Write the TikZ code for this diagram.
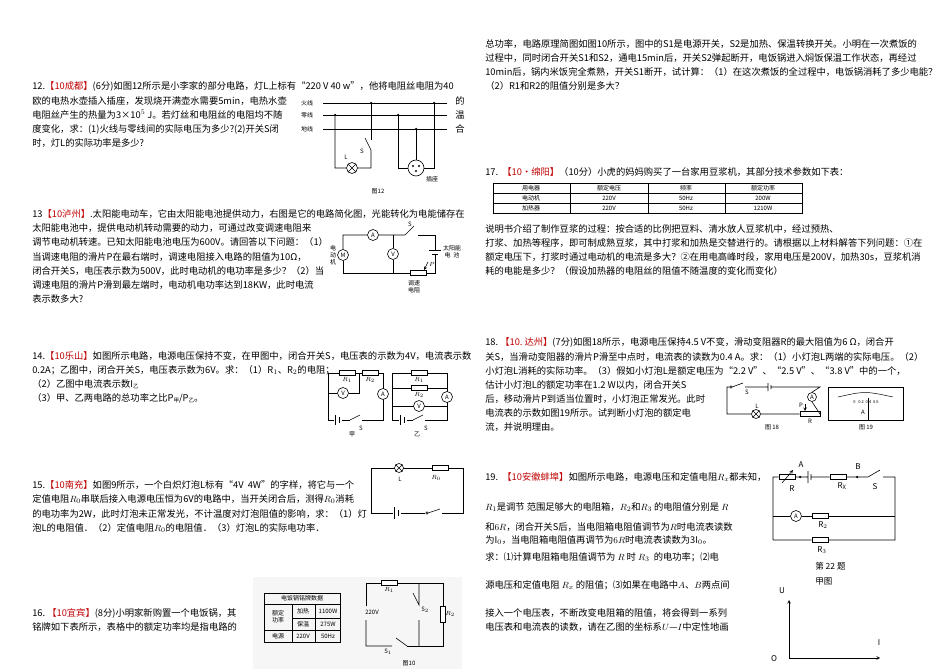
\documentclass[tikz,border=0pt]{standalone}
\usepackage{fontspec}
\setmainfont{Noto Sans CJK SC}
\newcommand{\tg}[1]{\textcolor{red!75!black}{#1}}
\newcommand{\TL}[4]{\node[tl] (#1) at (#2,#3) {#4};}
\newcommand{\subt}[1]{\raisebox{-0.3ex}{\fontsize{5.5}{6}\selectfont #1}}
\begin{document}
\begin{tikzpicture}[x=1pt,y=-1pt,
 tl/.style={anchor=west,inner sep=0,font=\fontsize{9.3}{11}\selectfont},
 sm/.style={inner sep=0,font=\fontsize{6}{7}\selectfont},
 meter/.style={circle,draw,inner sep=0,minimum size=11pt,font=\fontsize{6}{7}\selectfont,fill=white},
 lampc/.style={circle,draw,inner sep=0,minimum size=11pt,fill=white},
 res/.style={draw,inner sep=0,minimum width=16pt,minimum height=5pt,fill=white},
 dotj/.style={circle,fill,inner sep=0,minimum size=2.5pt},
 line width=0.6pt]
\useasboundingbox (0,0) rectangle (950,671);
\fill[white] (0,0) rectangle (950,671);
% ---------- Q12
\TL{a1}{32}{86}{12.\tg{【10成都】}(6分)如图12所示是小李家的部分电路，灯L上标有“220 V 40 w”，他将电阻丝电阻为40}
\TL{a2}{32}{101}{欧的电热水壶插入插座，发现烧开满壶水需要5min，电热水壶}
\TL{a3}{32}{115}{电阻丝产生的热量为3×10$^5$ J。若灯丝和电阻丝的电阻均不随}
\TL{a4}{32}{129}{度变化，求：(1)火线与零线间的实际电压为多少?(2)开关S闭}
\TL{a5}{32}{143}{时，灯L的实际功率是多少?}
\TL{a6}{455}{101}{的}\TL{a7}{455}{115}{温}\TL{a8}{455}{129}{合}
\node[sm] (h1) at (307,103) {火线};
\node[sm] (h2) at (307,115) {零线};
\node[sm] (h3) at (307,129) {地线};
\draw (323,103)--(447,103) (323,115)--(447,115) (323,129)--(447,129);
\node[lampc] (L12) at (352,168) {};
\draw (L12.north west)--(L12.south east) (L12.north east)--(L12.south west);
\node[circle,draw,inner sep=0,minimum size=16pt] (sk) at (416,168) {};
\fill (413,166) circle (1.2) (419,166) circle (1.2) (416,171) circle (1.2);
\draw (335,115)--(335,168)--(L12.west) (L12.east)--(371,168)--(371,150)--(365,138);
\draw (371,140)--(371,103);
\draw (398,115)--(398,168)--(sk.west) (434,103)--(434,168)--(sk.east) (416,129)--(sk.north);
\node[dotj] (d1) at (335,115) {}; \node[dotj] (d2) at (371,103) {};
\node[dotj] (d3) at (398,115) {}; \node[dotj] (d4) at (434,103) {}; \node[dotj] (d5) at (416,129) {};
\node[sm] (s12) at (362,151) {S}; \node[sm] (l12) at (346,157) {L};
\node[sm] (c12) at (432,179) {插座}; \node[sm] (f12) at (378,191) {图12};
% ---------- Q13
\TL{b1}{32}{214}{13\tg{【10泸州】}.太阳能电动车，它由太阳能电池提供动力，右图是它的电路简化图，光能转化为电能储存在}
\TL{b2}{32}{228}{太阳能电池中，提供电动机转动需要的动力，可通过改变调速电阻来}
\TL{b3}{32}{242}{调节电动机转速。已知太阳能电池电压为600V。请回答以下问题：（1）}
\TL{b4}{32}{257}{当调速电阻的滑片P在最右端时，调速电阻接入电路的阻值为10Ω，}
\TL{b5}{32}{271}{闭合开关S，电压表示数为500V，此时电动机的电功率是多少？（2）当}
\TL{b6}{32}{285}{调速电阻的滑片P滑到最左端时，电动机电功率达到18KW，此时电流}
\TL{b7}{32}{299}{表示数多大?}
\node[meter] (A13) at (373,235) {A};
\node[meter] (V13) at (393,254) {V};
\node[meter] (M13) at (343,255) {M};
\node[res] (R13) at (418,273) {};
\draw (M13.north)--(343,235)--(A13.west) (A13.east)--(405,235)--(414,226);
\draw (418,235)--(435,235)--(435,250) (429,250)--(441,250) (432,254)--(438,254) (435,254)--(435,273)--(R13.east);
\draw (R13.west)--(343,273)--(M13.south) (393,235)--(V13.north) (V13.south)--(393,273);
\draw[-stealth] (428,262)--(424,270);
\node[sm] (p13) at (432,264) {$P$}; \node[sm] (s13) at (410,224) {S};
\node[sm,align=center] (m13) at (333,255) {电\\动\\机};
\node[sm,align=center] (t13) at (452,252) {太阳能\\电\ \ 池};
\node[sm,align=center] (r13) at (414,287) {调速\\电阻};
% ---------- Q14
\TL{c1}{32}{356}{14.\tg{【10乐山】}如图所示电路，电源电压保持不变，在甲图中，闭合开关S，电压表的示数为4V，电流表示数}
\TL{c2}{32}{370}{0.2A；乙图中，闭合开关S，电压表示数为6V。求：（1）R$_1$、R$_2$的电阻；}
\TL{c3}{32}{384}{（2）乙图中电流表示数I\subt{乙}}
\TL{c4}{32}{398}{（3）甲、乙两电路的总功率之比P\subt{甲}/P\subt{乙}。}
\draw (328,373) rectangle (383,420) (392,373) rectangle (447,420);
\node[res] (r1a) at (347,373) {}; \node[res] (r2a) at (370,373) {};
\node[meter] (va) at (343,393) {V}; \node[meter] (aa) at (383,394) {A};
\draw (328,393)--(va.west) (va.east)--(359,393)--(359,373);
\fill[white] (334,416) rectangle (342,424); \draw (335,415)--(335,425) (339,417)--(339,423);
\fill[white] (350,417) rectangle (362,423); \draw (350,420)--(360,415);
\node[sm] (sa) at (361,428) {S}; \node[sm] (ja) at (352,434) {甲};
\node[sm] (l1a) at (347,380) {$R_1$}; \node[sm] (l2a) at (370,380) {$R_2$};
\node[res] (r1b) at (419,373) {}; \node[res] (r2b) at (419,388) {};
\draw (392,388)--(r2b.west) (r2b.east)--(447,388) (392,406)--(447,406);
\node[meter] (vb) at (419,406) {V}; \node[meter] (ab) at (447,397) {A};
\fill[white] (399,416) rectangle (407,424); \draw (400,415)--(400,425) (404,417)--(404,423);
\fill[white] (413,417) rectangle (425,423); \draw (413,420)--(423,415);
\node[sm] (sb) at (426,428) {S}; \node[sm] (jb) at (417,434) {乙};
\node[sm] (l1b) at (419,380) {$R_1$}; \node[sm] (l2b) at (419,395) {$R_2$};
% ---------- Q15
\TL{d1}{32}{485}{15.\tg{【10南充】}如图9所示，一个白炽灯泡L标有“4V\ \ 4W”的字样，将它与一个}
\TL{d2}{32}{499}{定值电阻$R_0$串联后接入电源电压恒为6V的电路中，当开关闭合后，测得$R_0$消耗}
\TL{d3}{32}{514}{的电功率为2W，此时灯泡未正常发光，不计温度对灯泡阻值的影响，求：（1）灯}
\TL{d4}{32}{528}{泡L的电阻值．（2）定值电阻$R_0$的电阻值．（3）灯泡L的实际电功率．}
\draw (371,468) rectangle (463,513);
\node[lampc,minimum size=9pt] (L15) at (399,468) {};
\draw (L15.north west)--(L15.south east) (L15.north east)--(L15.south west);
\node[res] (R15) at (440,468) {};
\node[sm] (ll15) at (400,479) {L}; \node[sm] (lr15) at (436,478) {$R_0$};
\fill[white] (393,509) rectangle (401,517); \draw (394,507)--(394,519) (398,510)--(398,516);
\fill[white] (425,509) rectangle (442,517); \draw (427,513) circle (1.2) (428,513)--(440,509);
% ---------- Q16
\TL{e1}{32}{613}{16.\ \tg{【10宜宾】}(8分)小明家新购置一个电饭锅，其}
\TL{e2}{32}{627}{铭牌如下表所示，表格中的额定功率均是指电路的}
\fill[gray!7] (253,577) rectangle (462,669);
\draw[line width=0.5pt] (264,593) rectangle (340,642) (264,604)--(340,604) (292,618)--(340,618) (264,630)--(340,630) (292,604)--(292,642) (315,604)--(315,642);
\node[sm] (t0) at (302,598.5) {电饭锅铭牌数据};
\node[sm,align=center] (t1) at (278,617) {额定\\功率};
\node[sm] (t2) at (303,611) {加热}; \node[sm] (t3) at (328,611) {1100W};
\node[sm] (t4) at (303,624) {保温}; \node[sm] (t5) at (328,624) {275W};
\node[sm] (t6) at (278,636) {电源}; \node[sm] (t7) at (303,636) {220V}; \node[sm] (t8) at (328,636) {50Hz};
\node[res] (r16a) at (389,583) {}; \node[res,minimum width=5pt,minimum height=16pt] (r16b) at (443,614) {};
\draw (366,606)--(366,583)--(r16a.west) (r16a.east)--(443,583)--(r16b.north) (r16b.south)--(443,646)--(407,646);
\draw (407,646)--(396,638) (392,646)--(366,646)--(366,620);
\draw (419,583)--(419,605)--(413,593) (419,620)--(419,646);
\node[sm] (v16) at (372,612) {220V}; \node[sm] (s216) at (425,610) {S$_2$};
\node[sm] (l16) at (450,614) {$R_2$}; \node[sm] (l16a) at (389,590) {$R_1$};
\node[sm] (s116) at (388,652) {S$_1$}; \node[sm] (f16) at (409,663) {图10};
% ---------- right column
\TL{f1}{485}{44}{总功率，电路原理简图如图10所示，图中的S1是电源开关，S2是加热、保温转换开关。小明在一次煮饭的}
\TL{f2}{485}{58}{过程中，同时闭合开关S1和S2，通电15min后，开关S2弹起断开，电饭锅进入焖饭保温工作状态，再经过}
\TL{f3}{485}{72}{10min后，锅内米饭完全煮熟，开关S1断开，试计算：（1）在这次煮饭的全过程中，电饭锅消耗了多少电能？}
\TL{f4}{485}{86}{（2）R1和R2的阻值分别是多大？}
\TL{g1}{485}{172}{17.\ \ \tg{【10·绵阳】}（10分）小虎的妈妈购买了一台家用豆浆机，其部分技术参数如下表：}
\draw (493,183) rectangle (802,213) (493,193)--(802,193) (493,203)--(802,203) (570,183)--(570,213) (648,183)--(648,213) (725,183)--(725,213);
\node[sm] (u1) at (531,188) {用电器}; \node[sm] (u2) at (609,188) {额定电压}; \node[sm] (u3) at (686,188) {频率}; \node[sm] (u4) at (763,188) {额定功率};
\node[sm] (u5) at (531,198) {电动机}; \node[sm] (u6) at (609,198) {220V}; \node[sm] (u7) at (686,198) {50Hz}; \node[sm] (u8) at (763,198) {200W};
\node[sm] (u9) at (531,208) {加热器}; \node[sm] (u10) at (609,208) {220V}; \node[sm] (u11) at (686,208) {50Hz}; \node[sm] (u12) at (763,208) {1210W};
\TL{g2}{485}{229}{说明书介绍了制作豆浆的过程：按合适的比例把豆料、清水放人豆浆机中，经过预热、}
\TL{g3}{485}{243}{打浆、加热等程序，即可制成熟豆浆，其中打浆和加热是交替进行的。请根据以上材料解答下列问题：①在}
\TL{g4}{485}{257}{额定电压下，打浆时通过电动机的电流是多大？②在用电高峰时段，家用电压是200V，加热30s，豆浆机消}
\TL{g5}{485}{271}{耗的电能是多少？（假设加热器的电阻丝的阻值不随温度的变化而变化）}
% ---------- Q18
\TL{h1}{485}{342}{18.\ \tg{【10.\ 达州】}(7分)如图18所示，电源电压保持4.5 V不变，滑动变阻器R的最大阻值为6 Ω，闭合开}
\TL{h2}{485}{357}{关S，当滑动变阻器的滑片P滑至中点时，电流表的读数为0.4 A。求：（1）小灯泡L两端的实际电压。（2）}
\TL{h3}{485}{371}{小灯泡L消耗的实际功率。（3）假如小灯泡L是额定电压为“2.2 V”、“2.5 V”、“3.8 V”中的一个，}
\TL{h4}{485}{385}{估计小灯泡L的额定功率在1.2 W以内，闭合开关S}
\TL{h5}{485}{399}{后，移动滑片P到适当位置时，小灯泡正常发光。此时}
\TL{h6}{485}{413}{电流表的示数如图19所示。试判断小灯泡的额定电}
\TL{h7}{485}{427}{流，并说明理由。}
\node[meter,minimum size=9pt] (A18) at (812,397) {A};
\node[lampc,minimum size=9pt] (L18) at (756,414) {};
\draw (L18.north west)--(L18.south east) (L18.north east)--(L18.south west);
\node[res,minimum width=20pt] (R18) at (810,414) {};
\draw (731,387) circle (1.2) (732,387)--(743,383) (745,387)--(768,387) (768,383)--(768,391) (771,385)--(771,389) (771,387)--(820,387)--(A18.north) (A18.south)--(820,414)--(R18.east) (R18.west)--(L18.east) (L18.west)--(727,414)--(727,387)--(730,387);
\draw[-stealth] (805,404)--(805,411);
\node[sm] (s18) at (747,392) {S}; \node[sm] (p18) at (801,405) {P}; \node[sm] (r18) at (810,421) {R}; \node[sm] (l18) at (757,406) {L};
\node[sm] (f18) at (772,427) {图 18};
\draw (828,387) rectangle (903,420);
\draw[line width=0.5pt] (838,397) .. controls (865,391) .. (893,397);
\node[sm,font=\fontsize{4}{5}\selectfont] (sc) at (866,402) {0\ \ \ 0.2\ \ 0.4\ \ 0.6};
\node[sm] (a19) at (863,412) {A};
\draw (868,398)--(868,420);
\node[sm] (f19) at (866,427) {图 19};
% ---------- Q19
\TL{k1}{485}{477}{19.\ \ \tg{【10安徽蚌埠】}如图所示电路，电源电压和定值电阻$R_x$都未知，}
\TL{k2}{485}{507}{$R_1$是调节 范围足够大的电阻箱，$R_2$和$R_3$\ 的电阻值分别是 $R$}
\TL{k3}{485}{527}{和$6R$，闭合开关S后，当电阻箱电阻值调节为$R$时电流表读数}
\TL{k4}{485}{540}{为I$_0$，当电阻箱电阻值再调节为$6R$时电流表读数为3I$_0$。}
\TL{k5}{485}{557}{求：⑴计算电阻箱电阻值调节为\ $R$\ 时\ $R_3$\ \ 的电功率；⑵电}
\TL{k6}{485}{585}{源电压和定值电阻\ $R_x$\ 的阻值；⑶如果在电路中$A$、$B$两点间}
\TL{k7}{485}{613}{接入一个电压表，不断改变电阻箱的阻值，将会得到一系列}
\TL{k8}{485}{627}{电压表和电流表的读数，请在乙图的坐标系$U$—$I$中定性地画}
\node[res] (R19) at (787,477) {};
\draw[-stealth] (782,483)--(793,470);
\node[res] (Rx) at (838,477) {};
\node[meter] (A19) at (796,516) {A};
\node[res] (R2) at (820,516) {}; \node[res] (R3) at (820,540) {};
\draw (773,540)--(773,477)--(R19.west) (R19.east)--(808,477) (808,471)--(808,483) (811,474)--(811,480) (811,477)--(Rx.west) (Rx.east)--(868,477)--(880,470) (883,477)--(895,477)--(895,540)--(R3.east) (R3.west)--(773,540);
\draw (773,516)--(A19.west) (A19.east)--(R2.west) (R2.east)--(895,516);
\node[dotj] (dA) at (800,477) {}; \node[dotj] (dB) at (857,477) {};
\node[sm,font=\fontsize{8}{9}\selectfont\itshape] (la) at (801,465) {A};
\node[sm,font=\fontsize{8}{9}\selectfont\itshape] (lb) at (858,467) {B};
\node[sm,font=\fontsize{8}{9}\selectfont] (lr) at (792,489) {R};
\node[sm,font=\fontsize{8}{9}\selectfont] (lx) at (842,486) {R$_\mathrm{X}$};
\node[sm,font=\fontsize{8}{9}\selectfont] (ls) at (875,487) {S};
\node[sm,font=\fontsize{8}{9}\selectfont] (l2) at (823,525) {R$_2$};
\node[sm,font=\fontsize{8}{9}\selectfont] (l3) at (822,550) {R$_3$};
\node[anchor=west,inner sep=0,font=\fontsize{8.5}{10}\selectfont] (t22) at (815,566) {第 22 题};
\node[anchor=west,inner sep=0,font=\fontsize{8.5}{10}\selectfont] (tj) at (815,581) {甲图};
\coordinate (O) at (789,658); \coordinate (Uend) at (789,600); \coordinate (Iend) at (880,658);
\draw[-stealth] (O)--(Uend); \draw[-stealth] (O)--(Iend);
\node[sm,font=\fontsize{8}{9}\selectfont] (lu) at (782,591) {U};
\node[sm,font=\fontsize{8}{9}\selectfont] (li) at (879,643) {I};
\node[sm,font=\fontsize{8}{9}\selectfont] (lo) at (774,659) {O};
\end{tikzpicture}
\end{document}
